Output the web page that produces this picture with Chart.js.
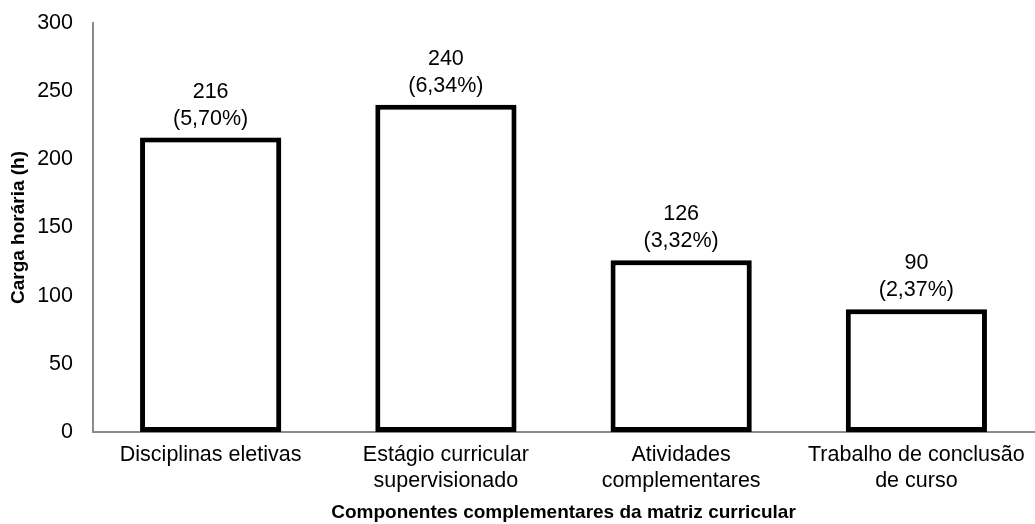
<!DOCTYPE html>
<html>
<head>
<meta charset="utf-8">
<script src="https://cdn.jsdelivr.net/npm/chart.js@4/dist/chart.umd.min.js"></script>
<style>
  html, body { margin: 0; padding: 0; background: #fff; }
  #wrap { width: 1035px; height: 524px; }
</style>
</head>
<body>
<div id="wrap"><canvas id="c" width="1035" height="524"></canvas></div>
<script>
// Componentes complementares da matriz curricular (carga horária)
const categories = [
  ['Disciplinas eletivas'],
  ['Estágio curricular', 'supervisionado'],
  ['Atividades', 'complementares'],
  ['Trabalho de conclusão', 'de curso']
];
const hours = [216, 240, 126, 90];
const shares = ['5,70%', '6,34%', '3,32%', '2,37%'];
const yMin = 0;
const yMax = 300;
const yStep = 50;

const FONT = "'Liberation Sans', Arial, sans-serif";

// Soft drop shadow behind the bars
const barShadow = {
  id: 'barShadow',
  beforeDatasetsDraw(chart) {
    const ctx = chart.ctx;
    ctx.save();
    ctx.shadowColor = 'rgba(0,0,0,0.35)';
    ctx.shadowBlur = 3;
    ctx.shadowOffsetX = 2;
    ctx.shadowOffsetY = 1;
  },
  afterDatasetsDraw(chart) {
    chart.ctx.restore();
  }
};

// Value and share written above each bar
const valueLabels = {
  id: 'valueLabels',
  afterDatasetsDraw(chart) {
    const ctx = chart.ctx;
    const meta = chart.getDatasetMeta(0);
    ctx.save();
    ctx.font = '21.5px ' + FONT;
    ctx.fillStyle = '#000';
    ctx.textAlign = 'center';
    ctx.textBaseline = 'alphabetic';
    meta.data.forEach((bar, i) => {
      ctx.fillText('(' + shares[i] + ')', bar.x, bar.y - 13);
      ctx.fillText(String(hours[i]), bar.x, bar.y - 40);
    });
    ctx.restore();
  }
};

new Chart(document.getElementById('c'), {
  type: 'bar',
  data: {
    labels: categories,
    datasets: [{
      data: hours,
      backgroundColor: '#ffffff',
      borderColor: '#000000',
      borderWidth: 5,
      borderSkipped: false,
      barPercentage: 0.6,
      categoryPercentage: 1
    }]
  },
  options: {
    responsive: false,
    animation: false,
    layout: { autoPadding: false, padding: { left: 0, right: 1, top: 23, bottom: 0 } },
    plugins: {
      legend: { display: false },
      tooltip: { enabled: false }
    },
    scales: {
      x: {
        grid: { display: false, drawTicks: false },
        border: { display: true, color: '#8a8a8a', width: 2 },
        ticks: {
          color: '#000',
          padding: 10,
          maxRotation: 0,
          autoSkip: false,
          font: { family: FONT, size: 21.5, lineHeight: 1.22 }
        },
        title: {
          display: true,
          text: 'Componentes complementares da matriz curricular',
          color: '#000',
          padding: { top: 0, bottom: 0 },
          font: { family: FONT, size: 19, weight: 'bold', lineHeight: 1.2 }
        },
        afterFit(scale) {
          scale.height = 92;
          scale.paddingLeft = 0;
          scale.paddingRight = 0;
        }
      },
      y: {
        min: yMin,
        max: yMax,
        grid: { display: false, drawTicks: false },
        border: { display: true, color: '#8a8a8a', width: 2 },
        ticks: {
          stepSize: yStep,
          color: '#000',
          padding: 20,
          font: { family: FONT, size: 21.5 }
        },
        title: {
          display: true,
          text: 'Carga horária (h)',
          color: '#000',
          padding: { top: 7, bottom: 0 },
          font: { family: FONT, size: 19, weight: 'bold', lineHeight: 1.2 }
        },
        afterFit(scale) {
          scale.width = 93;
          scale.paddingTop = 0;
          scale.paddingBottom = 0;
        }
      }
    }
  },
  plugins: [barShadow, valueLabels]
});
</script>
</body>
</html>
